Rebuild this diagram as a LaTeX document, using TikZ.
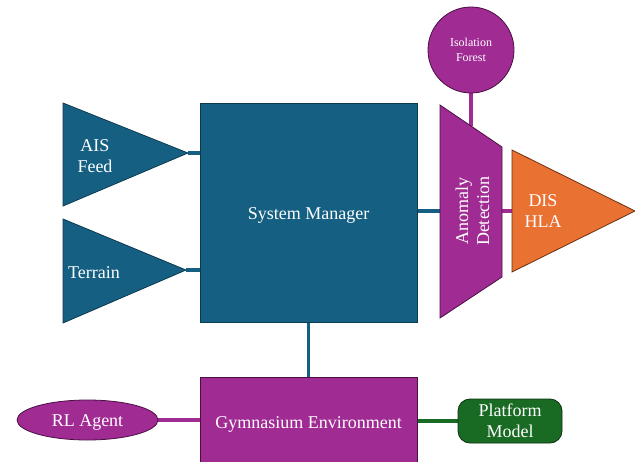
\documentclass[tikz,border=0pt]{standalone}
\usepackage{fontspec}
\setmainfont{Liberation Serif}
\usetikzlibrary{shapes.geometric,backgrounds}
\definecolor{tealfill}{HTML}{156082}
\definecolor{tealedge}{HTML}{0C3A50}
\definecolor{purpfill}{HTML}{A02B93}
\definecolor{purpedge}{HTML}{4A1044}
\definecolor{orngfill}{HTML}{E97132}
\definecolor{orngedge}{HTML}{6B3010}
\definecolor{grnfill}{HTML}{196B24}
\definecolor{grnedge}{HTML}{0B300F}
\begin{document}
\begin{tikzpicture}[x=1pt,y=-1pt,
  txt/.style={text=white,font=\fontsize{18}{21}\selectfont,align=center,inner sep=0pt},
  lowtxt/.style={text height=17pt,text depth=4pt},
  boxshape/.style={txt,draw,line width=0.8pt,inner sep=0pt},
  tealshape/.style={fill=tealfill,draw=tealedge,line width=0.8pt},
  purpshape/.style={fill=purpfill,draw=purpedge,line width=0.8pt},
  orngshape/.style={fill=orngfill,draw=orngedge,line width=0.8pt},
  tealconn/.style={draw=tealfill,line width=3.5pt},
  purpconn/.style={draw=purpfill,line width=3.2pt},
  grnconn/.style={draw=grnfill,line width=3.5pt}]
\useasboundingbox (0,0) rectangle (635,461);
\clip (0,0) rectangle (635,461);

\coordinate (aistip) at (188,153);
\coordinate (tertip) at (186,270);
\coordinate (adin) at (440,211);
\coordinate (adout) at (502,211);
\coordinate (adtop) at (471,126);
\coordinate (disin) at (512,211);

\node[boxshape,lowtxt,tealshape,minimum width=217pt,minimum height=219pt] (sm) at (308.5,212.5) {System Manager};
\node[boxshape,lowtxt,purpshape,minimum width=217pt,minimum height=90pt] (gym) at (308.5,422) {Gymnasium Environment};
\node[boxshape,lowtxt,purpshape,ellipse,minimum width=141pt,minimum height=40pt] (rl) at (87.5,420) {RL Agent};
\node[boxshape,fill=grnfill,draw=grnedge,rounded corners=12pt,minimum width=104pt,minimum height=44pt] (pm) at (510,421) {Platform\\Model};
\node[boxshape,purpshape,circle,minimum size=86pt,font=\fontsize{12}{15}\selectfont] (iso) at (471,50) {Isolation\\Forest};

% triangles and trapezoid
\draw[tealshape] (63,103) -- (aistip) -- (63,206) -- cycle;
\node[txt] (ais) at (95,156) {AIS\\Feed};
\draw[tealshape] (63,219) -- (tertip) -- (63,323) -- cycle;
\node[txt,lowtxt] (ter) at (94,272) {Terrain};
\draw[purpshape] (440,105) -- (502,147) -- (502,277) -- (440,318) -- cycle;
\node[txt,rotate=90] (ad) at (472.5,211) {Anomaly\\Detection};
\draw[orngshape] (disin |- 0,150) -- (635,211) -- (disin |- 0,272) -- cycle;
\node[txt] (dis) at (543,211) {DIS\\HLA};

\begin{pgfonlayer}{background}
\draw[tealconn] (aistip) -- (aistip -| sm.west);
\draw[tealconn] (tertip) -- (tertip -| sm.west);
\draw[tealconn] (sm.east |- adin) -- (adin);
\draw[tealconn] (sm.south) -- (gym.north);
\draw[purpconn] (rl.east) -- (rl.east -| gym.west);
\draw[grnconn] (gym.east |- pm.west) -- (pm.west);
\draw[purpconn] (iso.south) -- (adtop);
\draw[purpconn] (adout) -- (disin);
\end{pgfonlayer}
\end{tikzpicture}
\end{document}
